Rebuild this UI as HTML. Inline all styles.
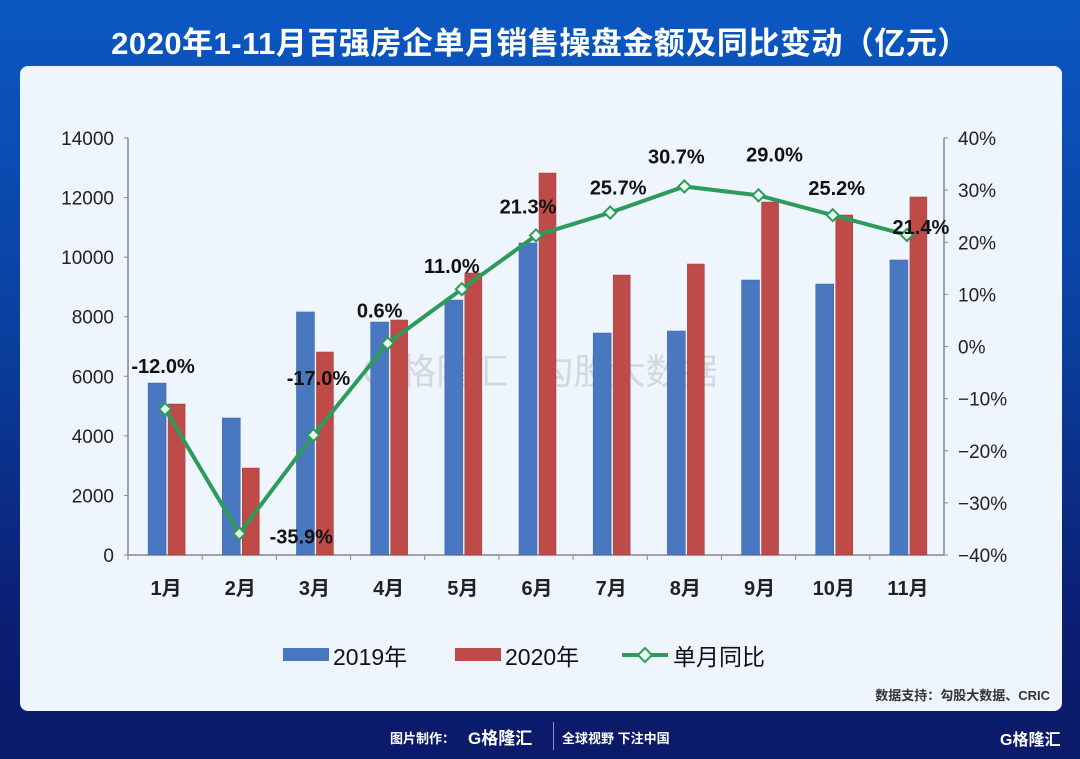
<!DOCTYPE html>
<html><head><meta charset="utf-8">
<style>
html,body{margin:0;padding:0}
body{width:1080px;height:759px;overflow:hidden;position:relative;background:linear-gradient(180deg,#0b58c2 0%,#0a3f9e 45%,#0b1f74 80%,#0b1a68 100%);font-family:"Liberation Sans","Noto Sans CJK SC",sans-serif}
#title{position:absolute;left:0;top:18px;width:1080px;text-align:center;color:#fff;font-size:31px;font-weight:bold;letter-spacing:0.5px}
#panel{position:absolute;left:20px;top:66px;width:1042px;height:645px;background:#eef5fd;border-radius:8px}
svg{position:absolute;left:0;top:0}
.foot{position:absolute;color:#fff;font-weight:bold;font-size:14px}
</style></head><body>
<div id="title">2020年1-11月百强房企单月销售操盘金额及同比变动（亿元）</div>
<div id="panel"></div>
<svg id="chart" width="1080" height="759"></svg>
<div class="foot" style="left:390px;top:728px;font-size:13px">图片制作：</div>
<div class="foot" style="left:468px;top:724px;font-size:17px">G格隆汇</div>
<div style="position:absolute;left:553px;top:722px;width:1px;height:28px;background:#8894c8"></div>
<div class="foot" style="left:562px;top:728px;font-size:13px">全球视野 下注中国</div>
<div class="foot" style="left:1000px;top:726px;font-size:16px">G格隆汇</div>
<script>
const categories=["1月","2月","3月","4月","5月","6月","7月","8月","9月","10月","11月"];
const sales2019=[5774,4600,8160,7822,8560,10475,7453,7520,9232,9098,9904];
const sales2020=[5070,2920,6815,7890,9467,12824,9400,9770,11850,11415,12020];
const yoy=[-12.0,-35.9,-17.0,0.6,11.0,21.3,25.7,30.7,29.0,25.2,21.4];
const leftTicks=[0,2000,4000,6000,8000,10000,12000,14000];
const rightTicks=[-40,-30,-20,-10,0,10,20,30,40];
const yoyLabels=["-12.0%","-35.9%","-17.0%","0.6%","11.0%","21.3%","25.7%","30.7%","29.0%","25.2%","21.4%"];
const NS="http://www.w3.org/2000/svg";
const svg=document.getElementById('chart');
const X0=128,X1=944,Y0=555,Y1=138;
const bw=(X1-X0)/categories.length;
const yL=v=>Y0-(v/14000)*(Y0-Y1);
const yR=v=>Y0-((v+40)/80)*(Y0-Y1);
const xC=i=>X0+bw*(i+0.5);
function el(t,a){const e=document.createElementNS(NS,t);for(const k in a)e.setAttribute(k,a[k]);svg.appendChild(e);return e;}
let wm=el('text',{x:540,y:384,'font-size':36,fill:'#d3d7df','text-anchor':'middle','font-family':'"Liberation Sans","Noto Sans CJK SC",sans-serif'});


wm.textContent='G 格隆汇 | 勾股大数据';
let ax=el('line',{x1:X0,y1:Y1,x2:X0,y2:Y0,stroke:'#888','stroke-width':1.5});


let ax2=el('line',{x1:X1,y1:Y1,x2:X1,y2:Y0,stroke:'#888','stroke-width':1.5});


let ax3=el('line',{x1:X0,y1:Y0,x2:X1,y2:Y0,stroke:'#888','stroke-width':1.5});


leftTicks.forEach(v=>{
  el('line',{x1:X0-4,y1:yL(v),x2:X0,y2:yL(v),stroke:'#888'});
  const t=el('text',{x:X0-14,y:yL(v)+7,'font-size':19,fill:'#222','text-anchor':'end'});
  
  
  t.textContent=v;
});
rightTicks.forEach(v=>{
  el('line',{x1:X1,y1:yR(v),x2:X1+4,y2:yR(v),stroke:'#888'});
  const t=el('text',{x:X1+14,y:yR(v)+7,'font-size':19,fill:'#222'});
  
  
  t.textContent=(v<0?'−':'')+Math.abs(v)+'%';
});
categories.forEach((c,i)=>{
  el('line',{x1:X0+bw*i,y1:Y0,x2:X0+bw*i,y2:Y0+5,stroke:'#888'});
  const b1=el('rect',{x:xC(i)-17,y:yL(sales2019[i]),width:18,height:Y0-yL(sales2019[i]),fill:'#4a78c0',stroke:'#3a62a8','stroke-width':0.5});
  
  
  const b2=el('rect',{x:xC(i)+3,y:yL(sales2020[i]),width:17,height:Y0-yL(sales2020[i]),fill:'#bf4b48',stroke:'#a03c3a','stroke-width':0.5});
  
  
  const t=el('text',{x:xC(i)+1,y:Y0+40,'font-size':20,'font-weight':'bold',fill:'#222','text-anchor':'middle'});
  
  
  t.textContent=c;
});
const line=el('polyline',{points:yoy.map((v,i)=>xC(i)+','+yR(v)).join(' '),fill:'none',stroke:'#2e9a5c','stroke-width':4});


yoy.forEach((v,i)=>{
  const x=xC(i),y=yR(v);
  const m=el('polygon',{points:`${x},${y-6} ${x+6},${y} ${x},${y+6} ${x-6},${y}`,fill:'#e8fff0',stroke:'#2e9a5c','stroke-width':2});
  
  
  let lx=x,ly=y-16;
  if(i===0){lx=x-2;ly=y-36;} if(i===1){lx=x+62;ly=y+10;} if(i===2){lx=x+5;ly=y-50;}
  if(i===3){lx=x-8;ly=y-26;} if(i===4){lx=x-10;ly=y-16;} if(i===5){lx=x-8;ly=y-22;}
  if(i===6){lx=x+8;ly=y-18;} if(i===7){lx=x-8;ly=y-23;} if(i===8){lx=x+16;ly=y-34;}
  if(i===9){lx=x+4;ly=y-20;} if(i===10){lx=x+14;ly=y-1;}
  const t=el('text',{x:lx,y:ly,'font-size':20,'font-weight':'bold',fill:'#111','text-anchor':'middle'});
  
  
  t.textContent=yoyLabels[i];
});
const lg=[['#4a78c0','2019年',283],['#bf4b48','2020年',455]];
lg.forEach(([c,l,x])=>{
  const r=el('rect',{x:x,y:648,width:46,height:13,fill:c});
  
  
  const t=el('text',{x:x+50,y:665,'font-size':23,fill:'#111'});
  
  
  t.textContent=l;
});
el('line',{x1:622,y1:655,x2:668,y2:655,stroke:'#2e9a5c','stroke-width':4});
el('polygon',{points:'645,648 652,655 645,662 638,655',fill:'#e8fff0',stroke:'#2e9a5c','stroke-width':2});
const lt=el('text',{x:673,y:665,'font-size':23,fill:'#111'});


lt.textContent='单月同比';
const src=el('text',{x:1050,y:700,'font-size':13,'font-weight':'bold',fill:'#333','text-anchor':'end'});


src.textContent='数据支持：勾股大数据、CRIC';
</script>
</body></html>
